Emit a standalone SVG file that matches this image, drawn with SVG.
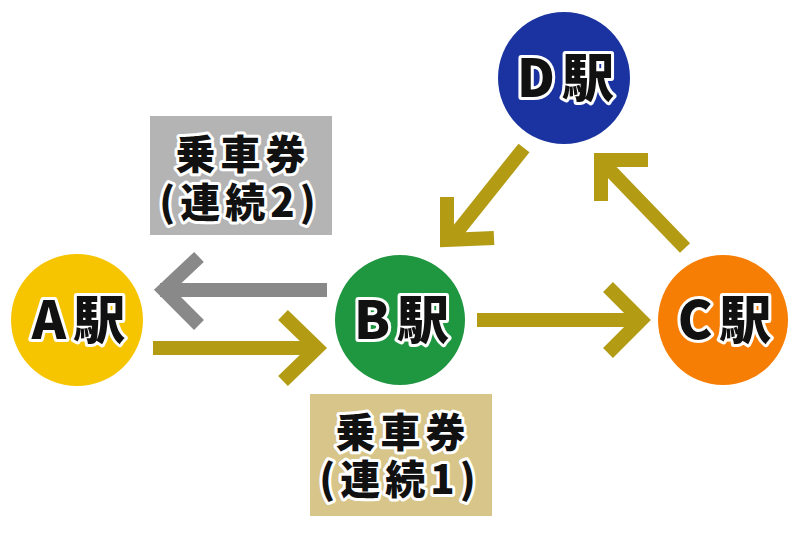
<svg xmlns="http://www.w3.org/2000/svg" width="800" height="533" viewBox="0 0 800 533">
<style>
.lbl{font-family:"Noto Sans CJK JP","Noto Sans",sans-serif;font-weight:900;fill:#111;stroke:#fff;stroke-width:6;stroke-linejoin:round;paint-order:stroke;text-anchor:middle}
.st{font-size:52px;letter-spacing:7px}
.tk{font-size:40px;letter-spacing:5px}
.gold{fill:none;stroke:#b39b14;stroke-width:14;stroke-linecap:butt;stroke-linejoin:miter}
.gray{fill:none;stroke:#898989;stroke-width:14;stroke-linecap:butt;stroke-linejoin:miter}
</style>
<rect width="800" height="533" fill="#fff"/>
<g id="connectors">
<line class="gray" x1="327" y1="290" x2="160" y2="290"/>
<polyline class="gray" points="199,257 164,290 199,325"/>
<line class="gold" x1="153" y1="348" x2="320" y2="348"/>
<polyline class="gold" points="283,315 317,348 283,381"/>
<line class="gold" x1="477" y1="320" x2="644" y2="320"/>
<polyline class="gold" points="608,287 641,320 608,353"/>
<line class="gold" x1="524" y1="148" x2="453" y2="237"/>
<polyline class="gold" points="447,197 447,240 494,238"/>
<line class="gold" x1="685" y1="248" x2="606" y2="166"/>
<polyline class="gold" points="601,201 601,160 648,160"/>
</g>
<g id="ticket2">
<rect x="150" y="116" width="182" height="119" fill="#b4b4b4"/>
<text class="lbl tk" x="243" y="169">乗車券</text>
<text class="lbl tk" x="240" y="217">(連続2)</text>
</g>
<g id="ticket1">
<rect x="310" y="394" width="182" height="122" fill="#d8c589"/>
<text class="lbl tk" x="403" y="447">乗車券</text>
<text class="lbl tk" x="400" y="494">(連続1)</text>
</g>
<g id="A">
<circle cx="77" cy="320" r="66" fill="#f6c500"/>
<text class="lbl st" x="82" y="339">A駅</text>
</g>
<g id="B">
<circle cx="400" cy="320" r="65" fill="#1f9640"/>
<text class="lbl st" x="405" y="339">B駅</text>
</g>
<g id="C">
<circle cx="723" cy="320" r="65" fill="#f77e04"/>
<text class="lbl st" x="728" y="339">C駅</text>
</g>
<g id="D">
<circle cx="564" cy="78" r="66" fill="#1a33a0"/>
<text class="lbl st" x="569" y="97">D駅</text>
</g>
</svg>
